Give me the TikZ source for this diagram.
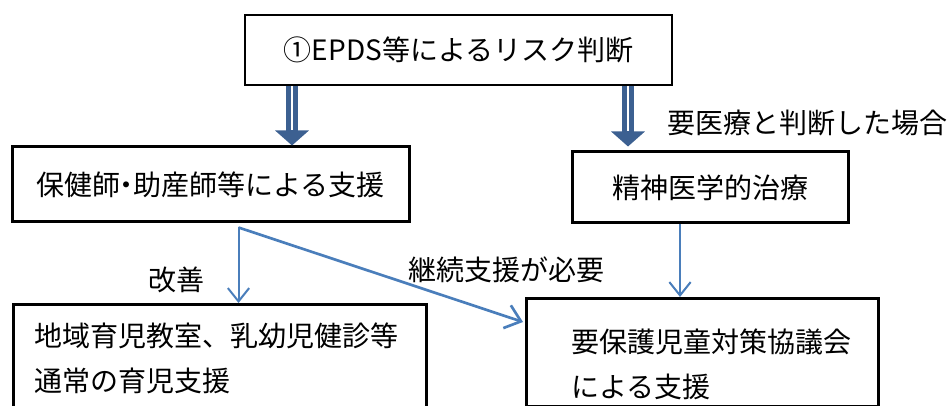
\documentclass[tikz,border=0pt]{standalone}
\usepackage{fontspec}
\setmainfont{Noto Sans CJK JP}
\usetikzlibrary{arrows.meta,calc}
\definecolor{fatblue}{HTML}{3C6091}
\definecolor{thinblue}{HTML}{4A7EBB}
\begin{document}
\begin{tikzpicture}[x=0.75pt,y=-0.75pt,
  txt/.style={font=\fontsize{21}{33.75}\selectfont},
  box/.style={draw=black, fill=white, inner sep=0pt, txt},
  fatarrow/.style={draw=fatblue, line width=9pt, -{Triangle[width=24.75pt,length=11.25pt]}},
  fatline/.style={draw=white, line width=0.8pt},
  thinarrow/.style={draw=thinblue, line width=1.5pt, -{Straight Barb[length=10pt,width=16pt]}},
  diagarrow/.style={draw=thinblue, line width=2pt, -{Straight Barb[length=11pt,width=18pt]}}]
\useasboundingbox (0,0) rectangle (947,406);
\clip (0,0) rectangle (947,406);
% boxes
\node[box, line width=1.5pt, minimum width=320.25pt, minimum height=52.5pt] (top) at (458.5,50) {①EPDS等によるリスク判断};
\node[box, line width=2.25pt, minimum width=297.75pt, minimum height=56.25pt] (hoken) at (210.5,184.5) {保健師\kern-0.27em・\kern-0.27em助産師等による支援};
\node[box, line width=2.25pt, minimum width=207pt, minimum height=53.25pt] (seishin) at (710,187.5) {精神医学的治療};
\node[box, line width=2pt, anchor=north west, minimum width=309.75pt, minimum height=81.75pt,
      text width=278.25pt, align=left] (chiiki) at (12,303) {地域育児教室、乳幼児健診等\\通常の育児支援};
\node[box, line width=2pt, anchor=north west, minimum width=264pt, minimum height=81pt,
      text width=196.5pt, align=left] (kyogi) at (525,297) {\rule{0pt}{35pt}要保護児童対策協議会\\による支援};
% labels
\node[txt] (kaizen) at (176,280) {改善};
\node[txt] (keizoku) at (506,270) {継続支援が必要};
\node[txt] (youiryo) at (807,123) {要医療と判断した場合};
% fat arrows
\draw[fatarrow] ($(top.south west)+(48,0)$) coordinate (a1) -- (a1 |- hoken.north);
\draw[fatline] (a1) -- ($(a1 |- hoken.north)+(0,-15)$);
\draw[fatarrow] ($(top.south east)+(-45,0)$) coordinate (a2) -- ($(a2 |- seishin.north)+(0,-4)$);
\draw[fatline] (a2) -- ($(a2 |- seishin.north)+(0,-19)$);
% thin arrows
\draw[thinarrow] ($(hoken.south west)+(228,4)$) coordinate (s) -- (s |- chiiki.north);
\draw[diagarrow] (s) -- ($(kyogi.north west)+(-2,25)$);
\draw[thinarrow] ($(seishin.south)+(-30,0)$) coordinate (t) -- (t |- kyogi.north);
\end{tikzpicture}
\end{document}
